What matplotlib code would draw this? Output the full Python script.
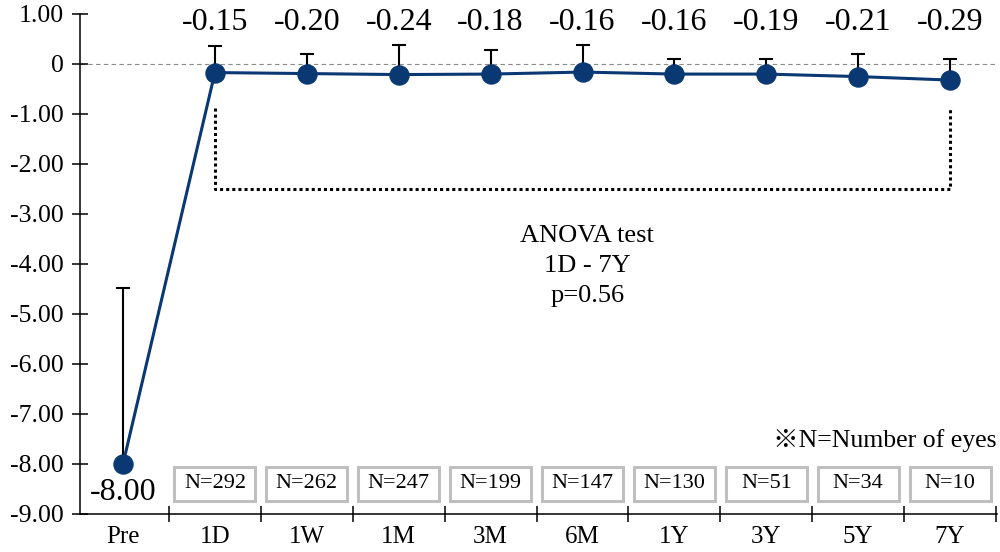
import matplotlib
matplotlib.use('Agg')
import matplotlib.pyplot as plt
from matplotlib.patches import Rectangle
from matplotlib.ticker import FixedLocator, FuncFormatter

plt.rcParams['font.family'] = ['Liberation Serif', 'DejaVu Serif', 'Noto Sans CJK JP']

# data
periods = ['Pre', '1D', '1W', '1M', '3M', '6M', '1Y', '3Y', '5Y', '7Y']
means = [-8.00, -0.18, -0.20, -0.22, -0.21, -0.17, -0.21, -0.21, -0.26, -0.33]
mean_labels = ['-8.00', '-0.15', '-0.20', '-0.24', '-0.18', '-0.16', '-0.16', '-0.19', '-0.21', '-0.29']
sd = [3.52, 0.54, 0.39, 0.60, 0.49, 0.55, 0.31, 0.31, 0.46, 0.43]
n_eyes = [292, 262, 247, 199, 147, 130, 51, 34, 10]   # 1D .. 7Y

navy = '#0a3873'
x = list(range(len(periods)))

fig = plt.figure(figsize=(10, 5.52), dpi=100)
ax = fig.add_axes([0.08, 0.069, 0.917, 0.9065])

ax.axhline(0, color='#8c8c8c', lw=0.8, ls=(0, (4, 3)), zorder=1)

ax.errorbar(x, means, yerr=[[0] * len(sd), sd], fmt='none', ecolor='black',
            elinewidth=1.5, capsize=4.7, capthick=1.5, zorder=2)
ax.plot(x, means, color=navy, lw=2.2, marker='o', markersize=13.7, zorder=3)

# value labels
for i, t in enumerate(mean_labels):
    if i == 0:
        ax.text(x[i], -8.58, t, ha='center', va='center', fontsize=23)
    else:
        ax.text(x[i], 0.82, t, ha='center', va='center', fontsize=23)

# dotted bracket 1D - 7Y
ax.plot([1, 1, 9, 9], [-0.88, -2.5, -2.5, -0.88], color='black', lw=2.2,
        ls=(0, (1, 1)), dash_capstyle='butt', zorder=2)
ax.text(5.05, -4.04, 'ANOVA test\n1D - 7Y\np=0.56', ha='center', va='center',
        fontsize=19, linespacing=1.48)

# N boxes
for i, n in enumerate(n_eyes):
    xc = x[i + 1]
    ax.add_patch(Rectangle((xc - 0.44, -8.74), 0.88, 0.68, facecolor='white',
                           edgecolor='#bfbfbf', lw=2.2, zorder=2))
    ax.text(xc, -8.40, 'N=%d' % n, ha='center', va='center', fontsize=16, zorder=3)
ax.text(9.5, -7.53, '※N=Number of eyes', ha='right', va='center', fontsize=18.5)

ax.set_xlim(-0.468, 9.51)
ax.set_ylim(-9, 1)
ax.set_yticks(range(-9, 2))
ax.yaxis.set_major_formatter(FuncFormatter(lambda v, p: '0' if abs(v) < 1e-9 else '%.2f' % v))
ax.set_xticks(x)
ax.set_xticklabels(periods)
ax.xaxis.set_minor_locator(FixedLocator([i + 0.5 for i in x]))
ax.tick_params(axis='x', which='major', length=0, pad=9, labelsize=18)
ax.tick_params(axis='x', which='minor', length=11, direction='inout', width=1.1)
ax.tick_params(axis='y', length=11, direction='inout', width=1.1, pad=6, labelsize=18.5)

for s in ['top', 'right']:
    ax.spines[s].set_visible(False)
for s in ['left', 'bottom']:
    ax.spines[s].set_linewidth(1.1)
ax.patch.set_visible(False)

fig.savefig('out.png', dpi=100)
